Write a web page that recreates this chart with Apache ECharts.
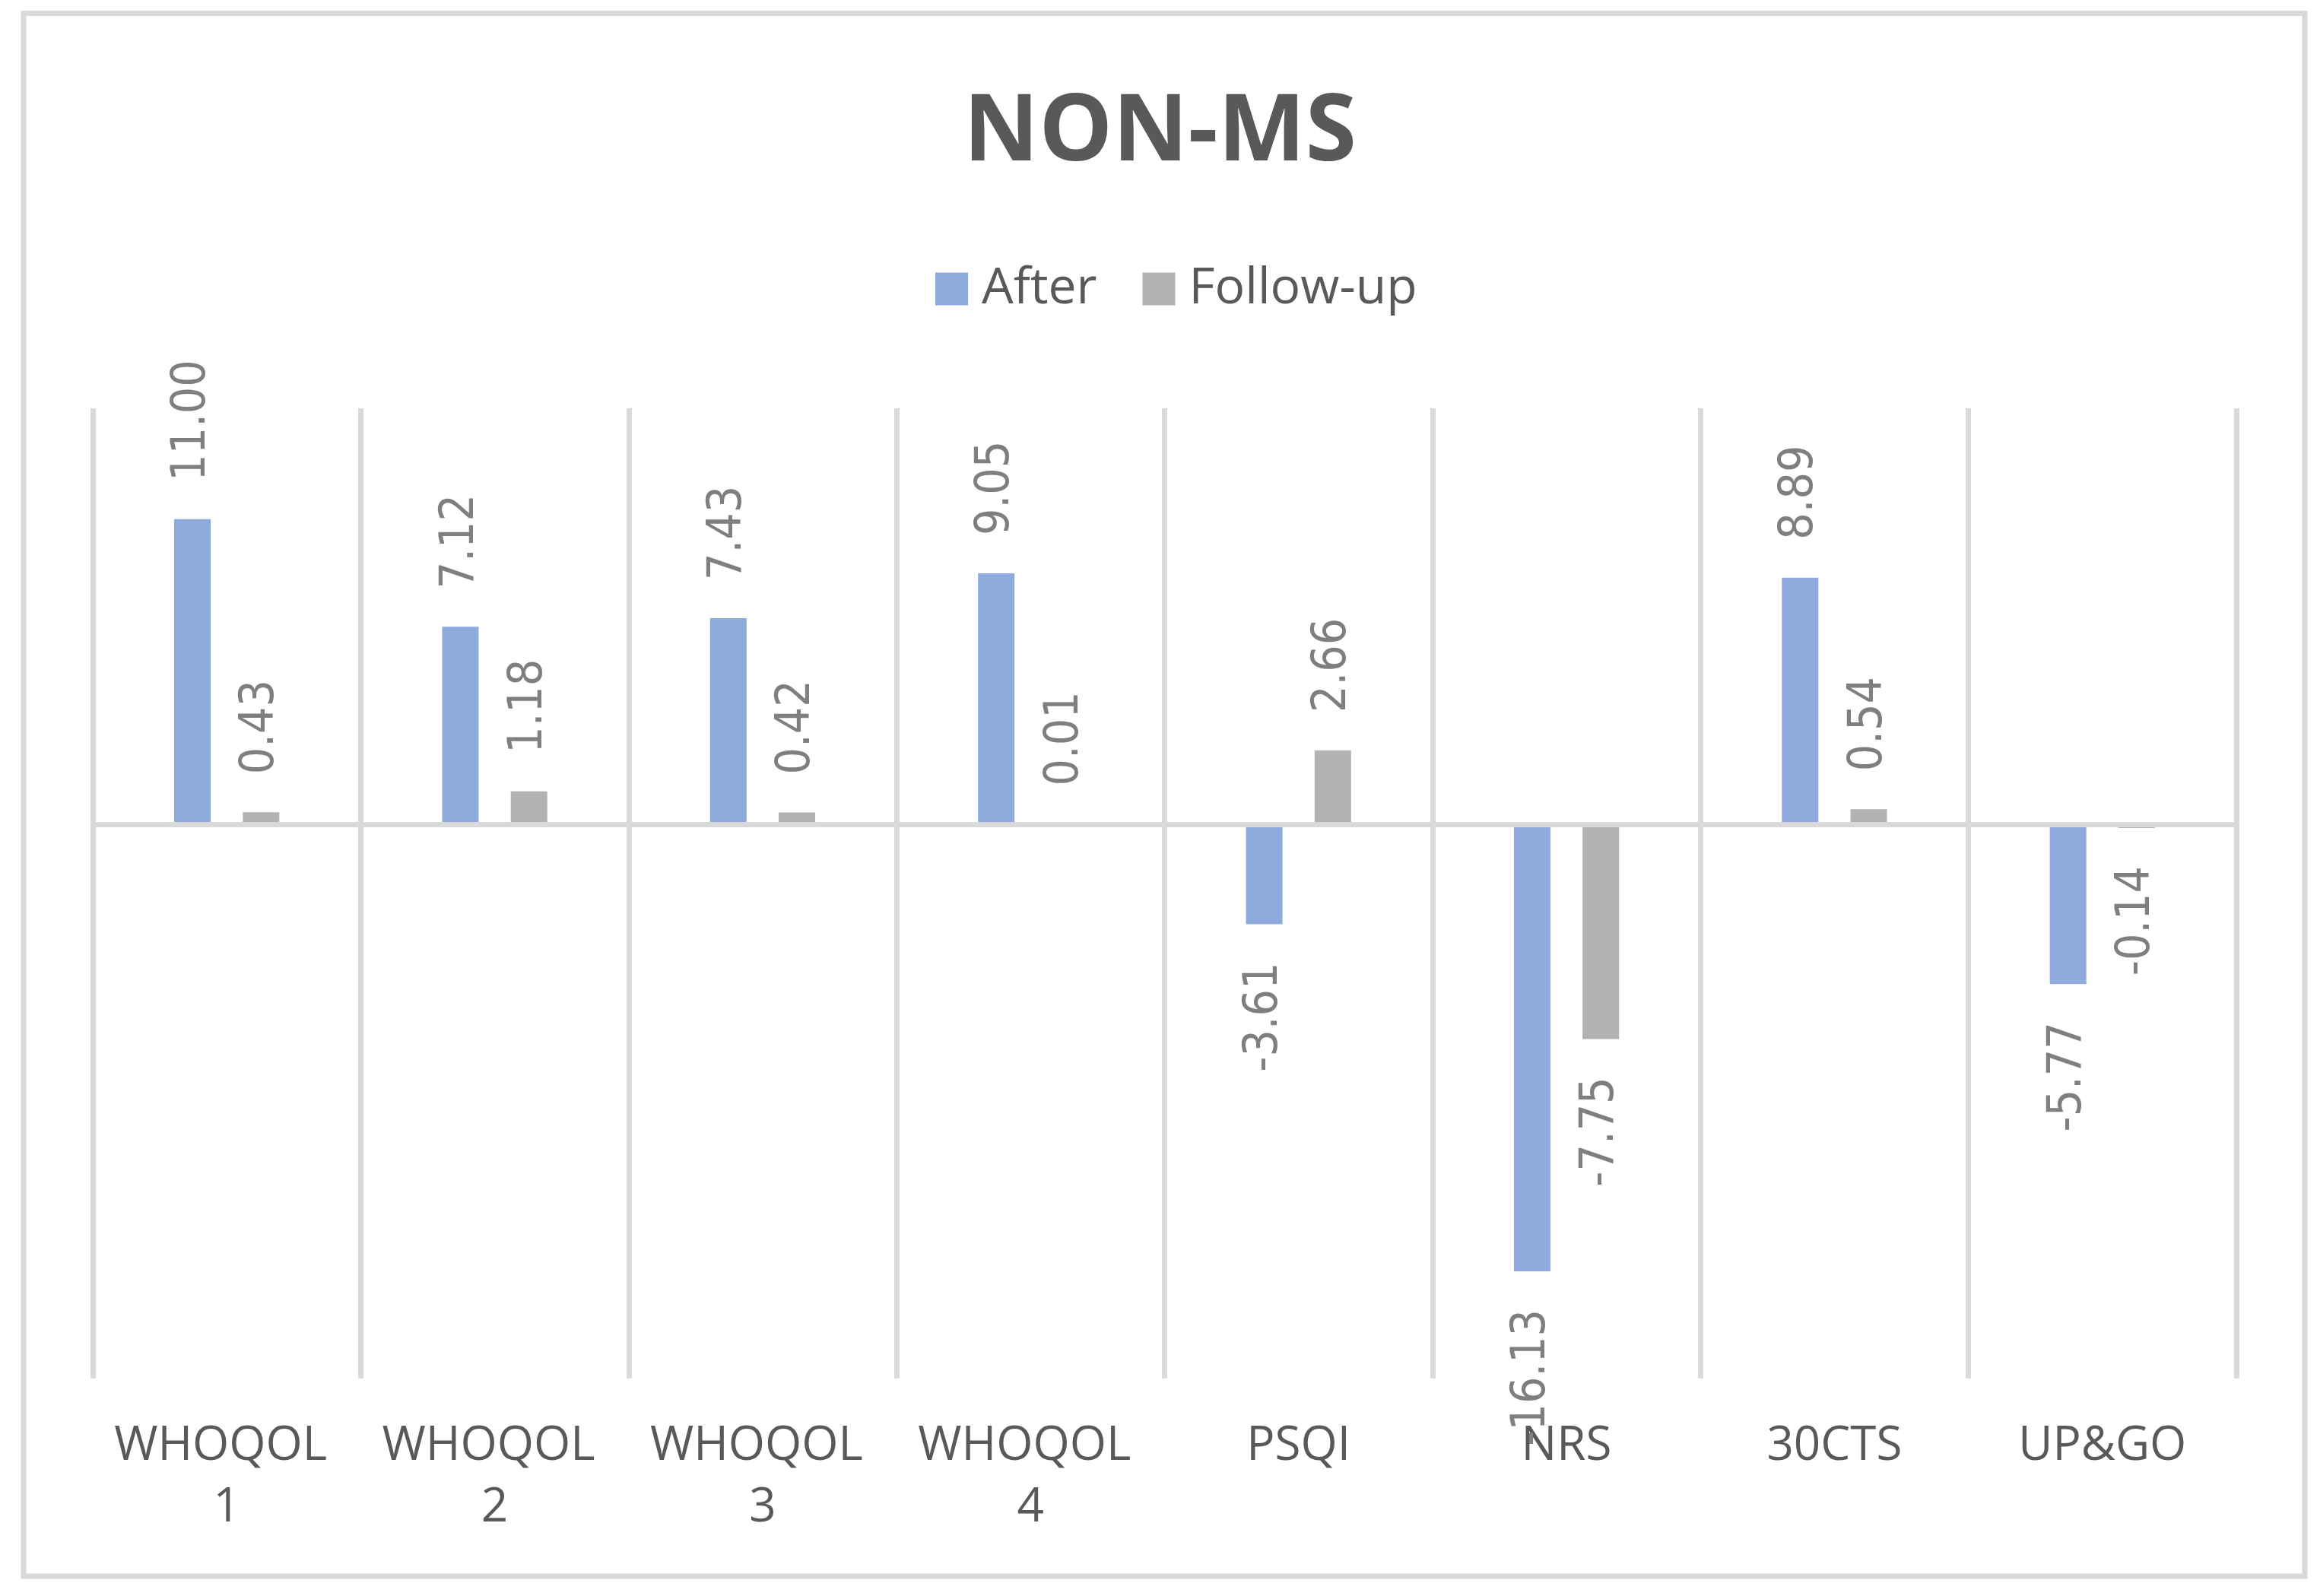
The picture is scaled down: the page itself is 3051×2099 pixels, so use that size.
<!DOCTYPE html>
<html>
<head>
<meta charset="utf-8">
<script src="https://cdn.jsdelivr.net/npm/echarts@6/dist/echarts.min.js"></script>
<style>
html,body{margin:0;padding:0;background:#fff;}
#chart{width:3051px;height:2099px;}
</style>
</head>
<body>
<div id="chart"></div>
<script>
const titleText = 'NON-MS';
const categories = ['WHOQOL 1', 'WHOQOL 2', 'WHOQOL 3', 'WHOQOL 4', 'PSQI', 'NRS', '30CTS', 'UP&GO'];
const seriesNames = ['After', 'Follow-up'];
const afterValues = [11.00, 7.12, 7.43, 9.05, -3.61, -16.13, 8.89, -5.77];
const followUpValues = [0.43, 1.18, 0.42, 0.01, 2.66, -7.75, 0.54, -0.14];
const yMin = -20, yMax = 15, yInterval = 5;

const labelFont = "'Liberation Sans Narrow', 'DejaVu Sans Condensed', 'Open Sans', sans-serif";
const labelBase = {
  show: true,
  rotate: 90,
  distance: 50,
  verticalAlign: 'middle',
  color: '#7f7f7f',
  fontSize: 62,
  fontFamily: labelFont,
  formatter: p => Number(p.value).toFixed(2)
};
function buildData(vals) {
  return vals.map(v => ({
    value: v,
    label: Object.assign({}, labelBase, v >= 0 ? {position: 'top', align: 'left'} : {position: 'bottom', align: 'right'})
  }));
}

const chart = echarts.init(document.getElementById('chart'), null, {renderer: 'canvas'});
chart.setOption({
  animation: false,
  backgroundColor: '#ffffff',
  graphic: [{
    type: 'rect',
    shape: {x: 31, y: 17.5, width: 3000, height: 2055.5},
    style: {fill: 'none', stroke: '#d9d9d9', lineWidth: 7},
    silent: true,
    z: -10
  }],
  title: {
    text: titleText,
    left: 'center',
    top: 101,
    textStyle: {
      fontFamily: "'Open Sans', sans-serif",
      fontWeight: 'bold',
      fontSize: 122,
      lineHeight: 140,
      color: '#595959'
    }
  },
  legend: {
    data: seriesNames,
    left: 1225,
    top: 335,
    itemWidth: 43,
    itemHeight: 43,
    itemGap: 60,
    icon: 'rect',
    textStyle: {
      fontFamily: "'Open Sans', sans-serif",
      fontSize: 66,
      lineHeight: 80,
      color: '#595959',
      padding: [0, 0, 0, 13]
    }
  },
  grid: {left: 122, right: 110, top: 537, bottom: 286, containLabel: false},
  xAxis: {
    type: 'category',
    data: categories,
    axisLine: {show: false, onZero: false},
    axisTick: {show: false},
    splitLine: {show: true, lineStyle: {color: '#d9d9d9', width: 7}},
    axisLabel: {
      interval: 0,
      margin: 49,
      width: 300,
      overflow: 'break',
      fontFamily: "'Open Sans', sans-serif",
      fontSize: 62,
      lineHeight: 81,
      color: '#595959'
    }
  },
  yAxis: {
    type: 'value',
    min: yMin,
    max: yMax,
    interval: yInterval,
    show: false
  },
  series: [
    {
      name: seriesNames[0],
      type: 'bar',
      barWidth: 48,
      barGap: '88%',
      itemStyle: {color: '#8faadc'},
      data: buildData(afterValues),
      markLine: {
        silent: true,
        symbol: ['none', 'none'],
        label: {show: false},
        lineStyle: {color: '#d9d9d9', width: 7, type: 'solid'},
        data: [{yAxis: 0}]
      }
    },
    {
      name: seriesNames[1],
      type: 'bar',
      barWidth: 48,
      barGap: '88%',
      itemStyle: {color: '#b2b2b2'},
      data: buildData(followUpValues)
    }
  ]
});
</script>
</body>
</html>
